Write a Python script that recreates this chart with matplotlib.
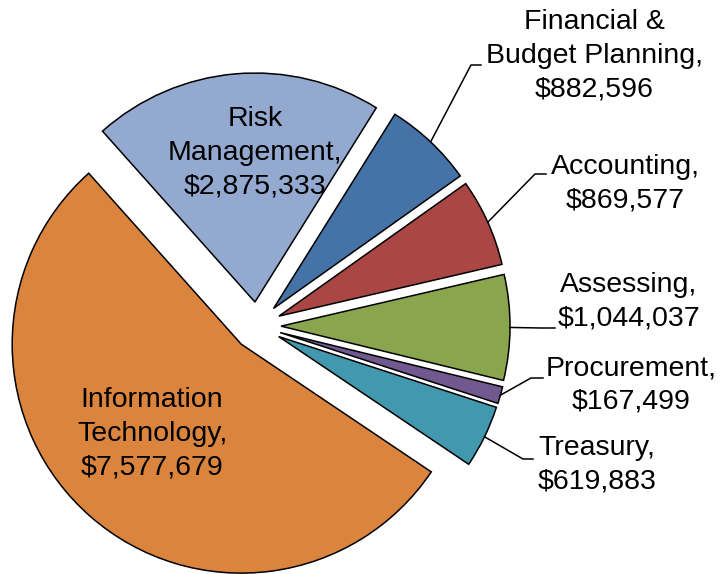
import numpy as np
import matplotlib.pyplot as plt

labels = ['Financial &\nBudget Planning', 'Accounting', 'Assessing', 'Procurement',
          'Treasury', 'Information\nTechnology', 'Risk\nManagement']
values = [882596, 869577, 1044037, 167499, 619883, 7577679, 2875333]
colors = ['#4572A7', '#AA4643', '#89A54E', '#71588F', '#4198AF', '#DB843D', '#93A9CF']

W, H = 726, 574
CX, CY, R = 257, 326, 229   # pie centre / radius in pixels (from top)


def px(x, y):
    # pixel position (top-left origin) -> data coords (radius = 1)
    return (x - CX) / R, (CY - y) / R


fig = plt.figure(figsize=(W / 100, H / 100), dpi=100)
ax = fig.add_axes([0, 0, 1, 1])
plt.rcParams['font.family'] = ['Liberation Sans', 'DejaVu Sans']

wedges, _ = ax.pie(values, colors=colors, startangle=58, counterclock=False,
                   explode=[0.105] * len(values), radius=1,
                   wedgeprops=dict(edgecolor='black', linewidth=1.1))

texts = [f'{l},\n${v:,.0f}' for l, v in zip(labels, values)]
fs, ls = 20.5, 1.38

# outside labels: (text centre, elbow point, end of horizontal tick)
outside = {
    0: ((594, 56), (471, 65), (481, 65)),
    1: ((625, 184), (535, 174), (546, 174)),
    2: ((629, 302), (541, 328), (555, 328)),
    3: ((631, 385), (531, 378), (543, 378)),
    4: ((597, 465), (523, 459), (533, 459)),
}
inside = {5: (152, 434), 6: (255, 153)}

for i, w in enumerate(wedges):
    if i in outside:
        tpos, elbow, end = outside[i]
        tm = np.deg2rad((w.theta1 + w.theta2) / 2)
        sx = w.center[0] + w.r * np.cos(tm)
        sy = w.center[1] + w.r * np.sin(tm)
        ex, ey = px(*elbow)
        hx, hy = px(*end)
        ax.plot([sx, ex, hx], [sy, ey, hy], color='black', lw=1.1)
        ax.text(*px(*tpos), texts[i], ha='center', va='center', fontsize=fs,
                linespacing=ls)
    else:
        ax.text(*px(*inside[i]), texts[i], ha='center', va='center', fontsize=fs,
                linespacing=ls)

ax.set_xlim(-CX / R, (W - CX) / R)
ax.set_ylim(-(H - CY) / R, CY / R)
ax.set_aspect('auto')
ax.axis('off')

fig.savefig('out.png', dpi=100)
